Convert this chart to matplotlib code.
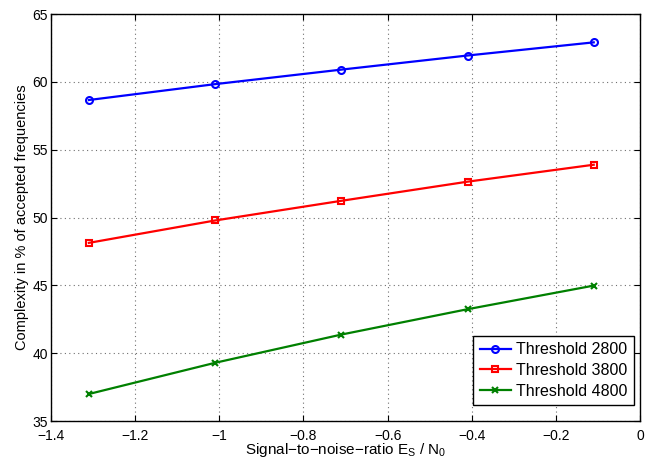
import matplotlib
matplotlib.use("Agg")
import matplotlib.pyplot as plt

plt.rcParams['font.family'] = ['Liberation Sans', 'DejaVu Sans']
plt.rcParams['mathtext.default'] = 'regular'

# Data
snr = [-1.31, -1.01, -0.71, -0.41, -0.11]
thr_2800 = [58.66, 59.83, 60.90, 61.94, 62.91]
thr_3800 = [48.13, 49.78, 51.23, 52.64, 53.89]
thr_4800 = [36.99, 39.29, 41.37, 43.24, 44.98]
labels = ['Threshold 2800', 'Threshold 3800', 'Threshold 4800']
xticks = [-1.4, -1.2, -1.0, -0.8, -0.6, -0.4, -0.2, 0]
xticklabels = ['\u22121.4', '\u22121.2', '\u22121', '\u22120.8', '\u22120.6', '\u22120.4', '\u22120.2', '0']
yticks = [35, 40, 45, 50, 55, 60, 65]

W, H = 645, 462
fig = plt.figure(figsize=(W / 100, H / 100), dpi=100)
ax = fig.add_axes([51 / W, 1 - 421 / H, 589 / W, 407 / H])

ax.plot(snr, thr_2800, color='#0000ff', lw=1.6, marker='o', ms=5, mfc='none', mew=1.5, label=labels[0])
ax.plot(snr, thr_3800, color='#ff0000', lw=1.6, marker='s', ms=4.5, mfc='none', mew=1.5, label=labels[1])
ax.plot(snr, thr_4800, color='#008000', lw=1.6, marker='x', ms=4, mew=1.5, label=labels[2])

ax.set_xlim(-1.4, 0)
ax.set_ylim(35, 65)
ax.set_xticks(xticks)
ax.set_xticklabels(xticklabels)
ax.set_yticks(yticks)

ax.grid(True, ls=(0, (1, 3)), color='#707070', lw=0.8)
ax.tick_params(direction='in', top=True, right=True, labelsize=10, length=4)
ax.tick_params(axis='x', pad=5.5)
ax.tick_params(axis='y', pad=2)
for s in ax.spines.values():
    s.set_linewidth(1.0)

ax.set_xlabel('Signal\u2212to\u2212noise\u2212ratio E$_S$ / N$_0$', fontsize=11, labelpad=-1)
ax.set_ylabel('Complexity in % of accepted frequencies', fontsize=10.5, labelpad=3)

leg = ax.legend(loc='lower right', bbox_to_anchor=(634 / W, 1 - 405 / H), bbox_transform=fig.transFigure,
                fontsize=11.5, fancybox=False, framealpha=1, edgecolor='black', borderaxespad=0,
                handlelength=2.0, handletextpad=0.3, borderpad=0.4, labelspacing=0.35)
leg.get_frame().set_linewidth(1.0)

fig.savefig('out.png', dpi=100)
